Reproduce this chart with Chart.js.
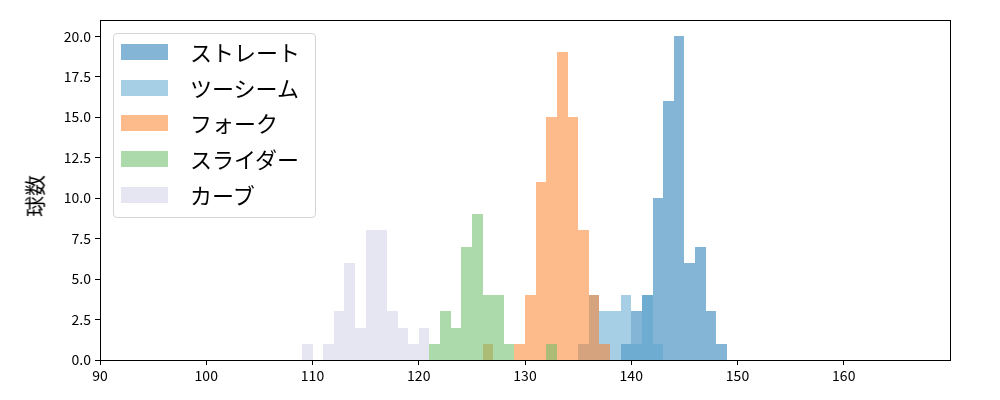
<!DOCTYPE html>
<html>
<head>
<meta charset="utf-8">
<script src="https://cdn.jsdelivr.net/npm/chart.js@4/dist/chart.umd.min.js"></script>
<style>
  html, body { margin: 0; padding: 0; background: #fff; }
  #wrap { position: relative; width: 1000px; height: 400px; }
  #c { position: absolute; left: 0; top: 0; }
  #ylabel {
    position: absolute; left: 34px; top: 196px;
    transform: translate(-50%, -50%) rotate(-90deg);
    font-family: "Noto Sans CJK JP", sans-serif; font-size: 21px; color: #000;
    white-space: nowrap; line-height: 1;
  }
  #legend {
    position: absolute; left: 113px; top: 33px; width: 201px; height: 183px;
    border: 1px solid #d4d4d4; border-radius: 4px; background: rgba(255,255,255,0.8);
    box-sizing: content-box;
  }
  .row { position: absolute; left: 0; height: 16px; }
  .patch { position: absolute; left: 7px; top: 0; width: 47px; height: 16px; }
  .lbl {
    position: absolute; left: 76px; top: 7px; transform: translateY(-50%);
    font-family: "Noto Sans CJK JP", sans-serif; font-size: 22px; color: #000;
    white-space: nowrap; line-height: 1;
  }
</style>
</head>
<body>
<div id="wrap">
  <canvas id="c" width="1000" height="400"></canvas>
  <div id="ylabel">球数</div>
  <div id="legend"></div>
</div>
<script>
// Series names (legend order)
const seriesNames = ["ストレート", "ツーシーム", "フォーク", "スライダー", "カーブ"];

// Histogram bin left edges (bin width 1 km/h) and counts per pitch type
const straightBins   = [139, 140, 141, 142, 143, 144, 145, 146, 147, 148];
const straightCounts = [1, 3, 4, 10, 16, 20, 6, 7, 3, 1];

const twoSeamBins   = [135, 136, 137, 138, 139, 140, 141, 142];
const twoSeamCounts = [1, 4, 3, 3, 4, 1, 4, 1];

const forkBins   = [126, 129, 130, 131, 132, 133, 134, 135, 136, 137];
const forkCounts = [1, 1, 4, 11, 15, 19, 15, 8, 4, 1];

const sliderBins   = [121, 122, 123, 124, 125, 126, 127, 128, 132];
const sliderCounts = [1, 3, 2, 7, 9, 4, 4, 1, 1];

const curveBins   = [109, 111, 112, 113, 114, 115, 116, 117, 118, 119, 120];
const curveCounts = [1, 1, 3, 6, 2, 8, 8, 3, 2, 1, 2];

// Axis tick values
const xTicks = [90, 100, 110, 120, 130, 140, 150, 160];
const yTicks = [0, 2.5, 5, 7.5, 10, 12.5, 15, 17.5, 20];

const colors = [
  "rgba(31,119,180,0.55)",
  "rgba(93,166,206,0.55)",
  "rgba(251,129,42,0.55)",
  "rgba(106,188,100,0.55)",
  "rgba(210,210,231,0.55)"
];

const binSets = [
  [straightBins, straightCounts],
  [twoSeamBins, twoSeamCounts],
  [forkBins, forkCounts],
  [sliderBins, sliderCounts],
  [curveBins, curveCounts]
];

const datasets = binSets.map((pair, i) => ({
  label: seriesNames[i],
  data: pair[0].map((b, j) => ({ x: b + 0.5, y: pair[1][j] })),
  backgroundColor: colors[i],
  borderWidth: 0,
  inflateAmount: 0,
  barPercentage: 1.0,
  categoryPercentage: 1.0,
  grouped: false,
  order: binSets.length - 1 - i
}));

// Snap bar edges to whole pixels (like matplotlib) so adjacent bars do not show seams
const snap = {
  id: "snap",
  afterDatasetsUpdate(chart) {
    chart.getSortedVisibleDatasetMetas().forEach(meta => {
      meta.data.forEach(el => {
        const l = Math.round(el.x - el.width / 2);
        const r = Math.round(el.x + el.width / 2);
        el.x = (l + r) / 2;
        el.width = r - l;
        el.y = Math.round(el.y);
        el.base = Math.round(el.base);
        el.height = el.base - el.y;
      });
    });
  }
};

const frame = {
  id: "frame",
  afterDraw(chart) {
    const a = chart.chartArea, ctx = chart.ctx;
    ctx.save();
    ctx.strokeStyle = "#000";
    ctx.lineWidth = 1;
    ctx.strokeRect(Math.round(a.left) + 0.5, Math.round(a.top) + 0.5,
                   Math.round(a.right - a.left), Math.round(a.bottom - a.top));
    ctx.restore();
  }
};

const tickFont = { family: "'Noto Sans CJK JP', sans-serif", size: 14 };

new Chart(document.getElementById("c"), {
  type: "bar",
  data: { datasets },
  options: {
    responsive: false,
    animation: false,
    devicePixelRatio: 1,
    layout: { padding: { left: 0, right: 50, top: 20, bottom: 0 } },
    plugins: { legend: { display: false }, tooltip: { enabled: false } },
    scales: {
      x: {
        type: "linear", min: 90, max: 170, offset: false,
        afterBuildTicks: s => { s.ticks = xTicks.map(v => ({ value: v })); },
        afterFit: s => { s.height = 40; },
        ticks: { color: "#000", font: tickFont, padding: 2, maxRotation: 0, autoSkip: false,
                 callback: v => String(v) },
        grid: { drawOnChartArea: false, drawTicks: true, tickLength: 5, tickColor: "#000", offset: false },
        border: { display: false }
      },
      y: {
        min: 0, max: 21,
        afterBuildTicks: s => { s.ticks = yTicks.map(v => ({ value: v })); },
        afterFit: s => { s.width = 100; },
        ticks: { color: "#000", font: tickFont, padding: 4, callback: v => Number(v).toFixed(1) },
        grid: { drawOnChartArea: false, drawTicks: true, tickLength: 5, tickColor: "#000" },
        border: { display: false }
      }
    }
  },
  plugins: [snap, frame]
});

// Legend (HTML overlay)
const legend = document.getElementById("legend");
seriesNames.forEach((name, i) => {
  const row = document.createElement("div");
  row.className = "row";
  row.style.top = (10 + i * 35.7) + "px";
  const p = document.createElement("div");
  p.className = "patch";
  p.style.background = colors[i];
  const t = document.createElement("div");
  t.className = "lbl";
  t.textContent = name;
  row.appendChild(p);
  row.appendChild(t);
  legend.appendChild(row);
});
</script>
</body>
</html>
